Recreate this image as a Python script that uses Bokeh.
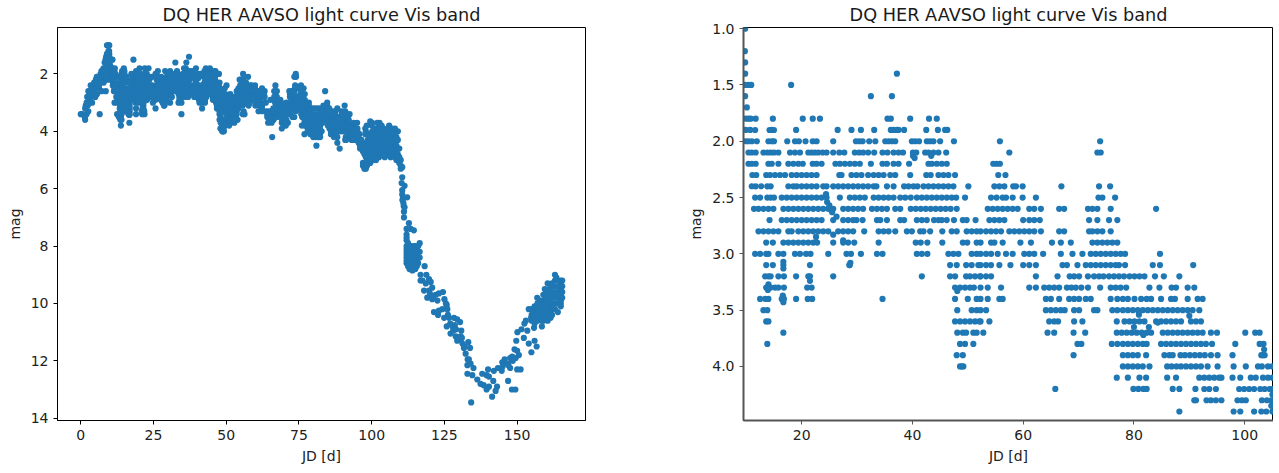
from bokeh.embed import file_html
from bokeh.resources import INLINE
from bokeh.models import ColumnDataSource, Range1d, FixedTicker, Title, NumeralTickFormatter
from bokeh.plotting import figure
from bokeh.layouts import row

TITLE = "DQ HER AAVSO light curve Vis band"
COLOR = "#1f77b4"

m10 = [9.8]
m12 = [9.75]
m13 = [9.8]
m14 = [9.8, 37.2]
m15 = [9.8, 10.4, 10.9, 18.1]
m16 = [9.8, 32.5, 36.3]
m17 = [10.1]
m18 = [9.9, 10.4, 10.8, 11.7, 14.8, 20.2, 22, 23.3, 35.5, 36.1, 39.6, 43, 44.4]
m19 = [9.9, 10.7, 11.6, 14.2, 14.6, 15, 19, 26.5, 29, 30.7, 33.1, 36.1, 36.6, 37.2, 37.5, 38.5, 42.5, 44.6, 45.9, 46.3]
m20 = [9.9, 10.4, 11, 11.9, 14, 14.6, 15, 17.4, 18.8, 19.5, 20.7, 22, 22.7, 25.7, 29.8, 30.4, 31, 32.2, 33.3, 35.1, 35.7,
       36.3, 36.9, 39.9, 40.5, 41.2, 42.6, 43.2, 43.8, 45, 47.5, 55.8, 73.9]
m21 = [10.4, 11, 11.7, 13.1, 13.8, 14.4, 15, 15.8, 17.9, 18.8, 19.7, 21.2, 21.8, 22.4, 23, 23.8, 24.5, 25.7, 26.8, 27.7,
       29.6, 30.4, 31.1, 32, 33.1, 34.6, 35.5, 36.6, 37.5, 38.3, 40.1, 40.7, 42.3, 42.9, 43.8, 44.7, 46.1, 57.5, 73.4, 74]
m22 = [10.4, 11, 11.7, 14, 14.6, 15.8, 17.6, 18.5, 19.4, 20.2, 22, 22.7, 23.6, 26.1, 26.9, 27.8, 28.7, 29.6, 30.5, 32.5,
       34.6, 35.4, 36.6, 37.5, 39.4, 42.9, 43.5, 44.4, 45.3, 46.2, 54.6, 55.2, 55.8]
m23 = [11.1, 11.8, 13.6, 14.3, 15.2, 16.1, 17, 18.2, 19.1, 20, 20.9, 21.8, 22.7, 26.8, 27.2, 29, 29.9, 30.8, 32, 33, 33.9,
       34.8, 36, 36.9, 39.6, 42.5, 43.3, 44.7, 45.6, 46.5, 47.7, 55.5, 56.8]
m24 = [11, 11.7, 12.7, 13.8, 14.4, 17.6, 18.5, 19.1, 20, 20.9, 21.8, 22.7, 23.9, 24.5, 25.7, 26.6, 27.5, 28.4, 29.3, 30.2,
       31.1, 32, 33, 33.5, 35.4, 36.6, 38.5, 39.3, 40.2, 40.9, 42, 42.9, 43.8, 44.7, 45.6, 46.5, 47.4, 50.1, 54.8, 55.7,
       56.6, 58.2, 58.7, 59.9, 66.9, 73.7, 75.7]
m25 = [11.6, 12.5, 13.8, 14.4, 15, 16.4, 17.3, 18.2, 19.1, 20, 20.9, 21.8, 22.7, 23.6, 24.5, 26.9, 28.7, 29.6, 30.5, 31.4,
       33, 33.9, 34.8, 35.7, 36.6, 37.8, 38.7, 39.7, 40.8, 41.7, 42.6, 43.5, 44.4, 45.3, 46.2, 47.1, 47.9, 49.5, 54.2,
       55.2, 56.3, 56.9, 58.1, 59.9, 62.3, 73.6, 74.3, 76.6]
m26 = [11.4, 12.2, 13.1, 14, 14.9, 16.7, 17.6, 18.5, 19.4, 20.3, 21.2, 22.1, 23, 23.9, 24.8, 25.7, 27.5, 28.4, 29.3, 30.2,
       31.1, 32.7, 33.6, 34.5, 35.4, 36.9, 37.8, 39.7, 40.6, 41.5, 42.4, 43.3, 44.2, 45.1, 46, 46.9, 48, 53.6, 54.5, 55.4,
       56.3, 57.2, 58.1, 59, 61.1, 62, 63.2, 66.5, 67.4, 71.7, 72.5, 73.4, 75.8, 84]
m27 = [14.2, 16.4, 17.3, 18.2, 19.1, 20, 20.9, 21.8, 22.7, 23.6, 25.7, 27.5, 28.4, 29.3, 29.9, 31, 33.6, 34.2, 35.4, 37.8,
       38.5, 40.8, 41.7, 42.6, 43.9, 44.7, 45.3, 46.2, 47.5, 49.1, 49.8, 51.4, 53.9, 54.8, 55.7, 56.6, 60, 61.1, 62, 63,
       71.9, 73.4, 75.5, 77]
m28 = [12.2, 13.1, 14, 14.9, 15.8, 17.6, 18.2, 19.4, 20.3, 21.2, 22.1, 23, 23.9, 24.8, 26.6, 27.5, 28.4, 29.3, 31.3, 33.9,
       34.8, 35.7, 36.9, 39, 39.9, 41.4, 42, 43.2, 45.4, 47.1, 48, 49.8, 50.7, 51.6, 52.3, 53.3, 54.2, 55.1, 56, 57.5,
       58.4, 59.3, 60.2, 61.1, 62, 63.2, 66.5, 67.4, 71.9, 72.5, 73.4, 74.3, 75.8]
m29 = [13.6, 14.8, 16.7, 17.6, 18.5, 19.4, 20.3, 21.2, 22.1, 22.8, 25.7, 27.5, 28.4, 29.5, 33.9, 40.6, 41.5, 42.7, 45.4,
       49.1, 49.9, 51.6, 52.3, 54.2, 54.8, 56.3, 59.5, 61.4, 65.2, 66.8, 68.6, 72.5, 73.4, 74.3, 75.2, 76.1, 77]
m30 = [11.6, 12.5, 13.6, 14, 15.8, 16.7, 18.8, 19.7, 20.8, 21.6, 24.8, 28.1, 28.9, 30.7, 33.6, 34.6, 40.8, 41.7, 42.7,
       46.5, 47.4, 48.3, 50.7, 51.6, 52.3, 53.3, 54.2, 55.4, 56.9, 58.1, 60.2, 61.1, 62, 63.6, 66.8, 68.9, 70.7, 72.2,
       73.1, 74, 74.9, 75.8, 76.7, 77.6, 78.4, 84.7]
m31 = [13.6, 14.8, 16.7, 21.5, 28.7, 46.8, 48, 49.7, 50.7, 51.9, 52.3, 53.3, 54.2, 55.7, 57.7, 60, 61.1, 62.3, 67.1, 67.9,
       69.8, 71.3, 72.2, 73.1, 74, 74.9, 75.8, 76.7, 77.3, 78.4, 83.4, 84.7, 90.7]
m32 = [13.4, 14, 14.4, 15.8, 16.8, 19, 21.2, 21.5, 25.7, 41.7, 46.8, 47.7, 49.7, 50.4, 51.3, 52.2, 52.3, 53.3, 54.2, 62.3,
       66.2, 68.4, 69.2, 70.1, 71.7, 72.8, 73.7, 74.5, 75.5, 76.4, 77.3, 78.2, 79.2, 80.1, 81, 81.9, 83.8, 85.4, 88.2]
m33 = [13.6, 14.4, 15.2, 15.8, 16.8, 21, 21.8, 47.7, 48.6, 49.5, 50.4, 51.1, 52.3, 53.6, 56, 61.1, 62.3, 63.8, 64.7, 65.6,
       66.5, 67.9, 68.7, 69.5, 70.5, 71.7, 73.9, 75.8, 76.7, 77.6, 78.6, 82.8, 84.6, 86.8, 87.6, 89.7, 90.9]
m34 = [12.5, 13.4, 14, 16.4, 16.8, 19, 21.1, 21.9, 34.6, 47.7, 50, 51.6, 52.3, 53.6, 55.7, 56.3, 64.1, 65, 66.5, 68.3,
       69.2, 70.1, 71.3, 72.2, 75.8, 77, 78, 78.9, 80.1, 81.3, 82.3, 83.1, 84.9, 86.7, 87.4, 89.7, 91.5, 92.4]
m35 = [13.1, 13.8, 48.1, 50.7, 51.6, 52.3, 53.3, 64.1, 65, 65.9, 66.8, 67.5, 69.2, 70.1, 72.8, 73.4, 76.1, 77, 78, 78.9,
       79.8, 80.7, 81.6, 82.5, 83.4, 84.3, 85.2, 86.1, 87, 87.9, 88.8, 89.7, 90.6, 91.8]
m36 = [13.6, 14, 47.7, 48.6, 49.5, 50.4, 51.3, 52.1, 52.3, 53.9, 64.7, 65.6, 66.3, 69.2, 70.7, 76.9, 78.3, 79.2, 80.1, 81,
       81.9, 84, 84.9, 85.8, 86.7, 87.6, 88.5, 90.3, 91.2, 92.1]
m37 = [16.7, 48.1, 49.1, 49.7, 51, 51.6, 52.8, 64.4, 65.6, 69.1, 71.2, 76.9, 77.8, 78.7, 79.6, 80.5, 81.4, 82.3, 83.1, 85.2,
       86.1, 87, 87.9, 88.8, 89.7, 90.6, 91.5, 92.4, 93.9, 95, 100.1, 101.9, 102.7]
m38 = [13.8, 48.6, 49.5, 51, 69.8, 70.5, 76, 77, 78, 78.9, 79.8, 80.7, 81.6, 82.3, 84.9, 85.8, 86.7, 87.6, 88.5, 89.4,
       90.3, 91.2, 92.1, 93, 94.1, 98.3, 102.7, 103.4]
m39 = [48, 49.1, 69.1, 78, 78.9, 79.8, 80.7, 82.2, 85.5, 86.4, 87, 88.4, 89.2, 90.1, 91, 91.9, 92.8, 93.9, 95.1, 97.8, 103,
       103.6]
m40 = [48.6, 48.9, 49.2, 78, 78.9, 79.8, 80.7, 81.6, 82.8, 86, 86.8, 87.7, 88.5, 89.4, 90.3, 91.2, 92.1, 93.3, 95.1, 98,
       100.2, 102.4, 103.1, 104.2, 105]
m41 = [76.9, 78.9, 81, 82.2, 86, 87.6, 91.8, 92.7, 93.6, 94.5, 95.4, 95.8, 97.8, 99.2, 101.1, 102, 103.3, 104.2, 105]
m42 = [65.8, 79.9, 80.8, 81.7, 82.3, 87, 88.2, 91.1, 92.7, 93.6, 94.8, 99, 99.9, 100.8, 101.7, 102.8, 103.6, 104.5, 105]
m43 = [90.9, 91.2, 93.1, 93.9, 94.8, 95.8, 98.7, 99.5, 100.2, 103.1, 104, 104.8]
m44 = [88.2, 98, 99.2, 101.7, 103, 103.9, 105]

levels = [1.0, 1.2, 1.3, 1.4, 1.5, 1.6, 1.7, 1.8, 1.9, 2.0, 2.1, 2.2, 2.3, 2.4, 2.5, 2.6, 2.7, 2.8, 2.9, 3.0, 3.1, 3.2,
          3.3, 3.4, 3.5, 3.6, 3.7, 3.8, 3.9, 4.0, 4.1, 4.2, 4.3, 4.4]
level_jds = [m10, m12, m13, m14, m15, m16, m17, m18, m19, m20, m21, m22, m23, m24, m25, m26, m27, m28, m29, m30, m31, m32,
             m33, m34, m35, m36, m37, m38, m39, m40, m41, m42, m43, m44]

# Observations not on the 0.1 mag grid
off_jd = [16.7, 16.7, 16.6, 16.7, 14, 13.9, 21.5, 28.8, 28.6, 22.6, 25.7, 27.5, 24.4, 24.6, 25, 26.3, 25.5, 43.4, 40.1,
          40.4, 48.1, 80, 82.7, 81.7, 84.3, 80.9, 90, 103.5, 103.3, 105, 104.8]
off_mag = [3.07, 3.13, 3.37, 3.43, 3.27, 3.32, 3.24, 3.08, 3.1, 2.85, 2.83, 2.88, 2.47, 2.54, 2.57, 2.67, 2.63, 2.13, 2.13,
           2.15, 3.33, 3.65, 3.65, 3.72, 3.61, 3.54, 3.55, 3.85, 3.9, 4.25, 4.35]

# Left panel only: the early rise, the faint part outside the zoom, and the decline and recovery
rise_jd = [0, 0.6, 1.4, 1.5, 2, 1.5, 1.7, 2, 2.4, 2.6, 2.2, 2.6, 2.9, 3, 3.2, 3.4, 3.6, 3.8, 3.9, 4.2, 4.4, 4.6, 4.8, 5,
           5.2, 5.4, 5.6, 5.8, 6, 6.2, 6.5, 6.4, 6.6, 6.8, 7, 7.2, 7.4, 7.6, 7.8, 8, 8.2, 8.4, 8.5, 8.7, 8.9, 9, 9.1, 9.2,
           9, 9.4, 9.5, 9.6, 9.7, 8.6, 8.3, 8.8, 9.3, 7.9, 7.1, 6.3, 5.5, 4.7]
rise_mag = [3.4, 3.4, 3.5, 3.6, 3.4, 3.2, 3.1, 3, 3.1, 3.3, 2.8, 2.6, 2.8, 3, 2.6, 2.4, 2.8, 2.7, 3, 2.4, 2.6, 2.3, 2.5, 2.8,
            2.2, 2.4, 2.7, 2.1, 2.2, 2.5, 3.4, 2.1, 2.3, 2, 2.2, 2.6, 1.9, 2.1, 1.8, 2, 1.6, 1.8, 1.5, 1.4, 1.7, 1.3, 1.5,
            1.9, 1, 1, 1.2, 1.4, 1, 2.6, 2.1, 1.9, 2.2, 2.3, 1.9, 2.4, 2.1, 2.7]

faint_jd = [96, 97, 98, 99, 100, 101, 102, 103, 104, 105, 96, 97.5, 98.5, 99.5, 100.5, 101.5, 103, 104.5, 97, 98, 99, 100.5,
            102, 103.5, 104.5, 97.5, 98.5, 100, 101.5, 102.5, 104, 105, 98, 99, 100, 101, 102.5, 104.5, 98.5, 99, 100.5,
            101.5, 97, 98, 99.5, 97, 97.6, 98.4, 97.5, 98, 81, 89, 95, 95.5, 94, 96.5, 100, 101, 102, 103, 104, 99.5]
faint_mag = [4.5, 4.5, 4.5, 4.5, 4.5, 4.5, 4.5, 4.5, 4.5, 4.5, 4.6, 4.6, 4.6, 4.6, 4.6, 4.6, 4.6, 4.6, 4.7, 4.7, 4.7, 4.7,
             4.7, 4.7, 4.7, 4.8, 4.8, 4.8, 4.8, 4.8, 4.8, 4.8, 4.9, 4.9, 4.9, 4.9, 4.9, 4.9, 5, 5, 5, 5, 5.1, 5.1, 5.1, 5.2,
             5.2, 5.2, 5.3, 5.3, 4.5, 4.6, 4.2, 4.4, 4.3, 4.3, 3.8, 3.9, 3.9, 3.8, 3.9, 3.65]

plateau_jd = [105.5, 105.5, 105.5, 105.5, 105.5, 106, 106, 106, 106, 106, 106, 106.5, 106.5, 106.5, 106.5, 106.5, 107, 107,
              107, 107, 107.5, 107.5, 107.5, 107.5, 108, 108, 108, 108, 108, 108.5, 108.5, 108.5, 108.5, 109, 109, 109, 109,
              109.5, 109.5, 109.5, 110, 110]
plateau_mag = [3.9, 4.1, 4.3, 4.5, 4.7, 3.8, 4, 4.2, 4.4, 4.6, 4.8, 4, 4.1, 4.3, 4.6, 4.9, 3.9, 4.2, 4.4, 4.7, 4, 4.3, 4.5,
               4.8, 3.9, 4.1, 4.4, 4.6, 4.9, 4.2, 4.5, 4.7, 5, 4, 4.3, 4.6, 4.8, 4.6, 4.9, 5.1, 5, 5.2]

drop_jd = [110.5, 110, 110.5, 110.3, 111.3, 110.5, 110.5, 112.2, 110.7, 110.9, 111.3, 111.1, 111.1, 110.6, 111, 112.8, 112,
           113.4, 114.5, 112, 112, 112, 112.2]
drop_mag = [5.25, 5.3, 5.6, 5.8, 5.9, 6.05, 6.2, 6.3, 6.35, 6.5, 6.65, 6.8, 7, 6.4, 6.6, 7.2, 7.4, 7.4, 7.45, 7.6, 7.8, 7.7, 8]

knot_jd = [112, 112, 112, 112, 112, 112, 112, 112.5, 112.5, 112.5, 112.5, 112.5, 113, 113, 113, 113, 113, 113.5, 113.5, 113.5,
           113.5, 114, 114, 114, 114, 114, 114.5, 114.5, 114.5, 114.5, 114.5, 115, 115, 115, 115, 115, 115.5, 115.5, 115.5,
           115.5, 116, 116, 116, 116, 116.5, 116.5, 116.5]
knot_mag = [8, 8.1, 8.2, 8.3, 8.4, 8.5, 8.6, 7.9, 8.2, 8.4, 8.6, 8.7, 8.1, 8.3, 8.5, 8.7, 8.8, 8, 8.2, 8.4, 8.6, 8.1, 8.3, 8.5,
            8.7, 8.85, 8, 8.2, 8.4, 8.6, 8.8, 8, 8.3, 8.5, 8.7, 8.8, 8.1, 8.3, 8.5, 8.7, 8, 8.2, 8.4, 8.6, 7.9, 8.2, 8.4]

fade_jd = [118.2, 116.8, 118.8, 116.8, 117.5, 119.7, 120.3, 118.6, 120.8, 118, 119.7, 119.1, 120.8, 122, 123.1, 122.6, 125,
           125.8, 121.4, 123.1, 122.8, 124.3, 126, 124.9, 126.6, 128.3, 129.4, 130.4, 125.8, 127.8, 128.6, 127.1, 130.8, 128.9,
           130.6, 129.4, 131.2, 133.2, 131.7, 133.8, 132.3, 133.4, 132.9, 135, 132.9, 134.6, 134.2, 136.3, 137.4, 120, 121,
           124.5, 125.5, 126.2, 127, 128, 129, 130, 131, 132, 133, 134]
fade_mag = [8.7, 9, 9, 9.2, 9.2, 9.15, 9.25, 9.3, 9.45, 9.55, 9.55, 9.8, 9.85, 9.7, 9.65, 9.9, 9.85, 10.05, 10.3, 10.25, 10.4,
            10.2, 10.2, 10.5, 10.5, 10.5, 10.55, 10.65, 10.8, 10.8, 10.75, 11.05, 10.95, 11.15, 11.15, 11.3, 11.4, 11.35, 11.55,
            11.55, 11.75, 11.95, 12.15, 12.25, 12.45, 12.5, 13.45, 12.65, 12.8, 9.65, 9.75, 9.6, 10, 10.4, 10.7, 10.95, 10.9,
            11.25, 11.2, 11.5, 11.95, 12.1]

rebound_jd = [138, 139.5, 140, 140.3, 141.8, 138.5, 139.5, 140.3, 141.4, 143.1, 142.6, 142, 143.4, 144.7, 144.9, 145.7, 147.6,
              147.6, 146.9, 148.2, 149.4, 148.3, 149.1, 150, 150, 151.2, 150.6, 149.7, 150.1, 152.3, 153.5, 154, 154.9, 156, 156.7,
              153, 154, 155.8, 154.8, 156.9, 156.9, 146.8, 148.5, 145, 147, 149.5, 151.5, 152.5]
rebound_mag = [12.45, 12.5, 12.3, 12.55, 12.7, 12.85, 13, 12.9, 13.25, 12.9, 13.05, 12.35, 12.25, 12.35, 12.05, 11.95, 11.9, 12.25,
               12.7, 13, 13, 11.85, 11.6, 11.65, 12.3, 12.3, 11.8, 11.3, 11, 11.2, 10.95, 11.4, 11.7, 11.3, 11.5, 10.6, 10.2, 10.85,
               10.5, 9.8, 10.35, 12.1, 12, 12.2, 12.15, 11.9, 10.9, 10.7]

bright_jd = [155, 155, 155, 156, 156, 156, 156, 157, 157, 157, 157, 158, 158, 158, 158, 158.5, 158.5, 158.5, 159, 159, 159, 159,
             159, 159, 160, 160, 160, 160, 160, 160, 161, 161, 161, 161, 161, 162, 162, 162, 162, 162, 162, 163, 163, 163, 163,
             163, 163, 163, 164, 164, 164, 164, 164, 164, 165, 165, 165, 165, 165, 165, 165, 165.5, 165.5, 165.5, 165.5, 160.5,
             160.5, 162, 161.5, 163.5, 159.5]
bright_mag = [10.2, 10.4, 10.6, 10.3, 10.5, 10.7, 10.1, 10, 10.2, 10.4, 10.6, 9.9, 10.1, 10.3, 10.5, 10.2, 10.6, 10.8, 9.7, 9.9, 10,
              10.2, 10.4, 10.6, 9.6, 9.8, 10, 10.2, 10.4, 10.5, 9.5, 9.7, 9.9, 10.1, 10.3, 9.4, 9.6, 9.8, 10, 10.2, 10.4, 9, 9.2,
              9.4, 9.6, 9.8, 10, 10.2, 9.2, 9.4, 9.6, 9.8, 10, 10.3, 9.2, 9.3, 9.5, 9.7, 9.9, 10, 10.1, 9.2, 9.4, 9.6, 9.8, 9.3, 10.6,
              9.3, 10.5, 9.1, 9.5]

# Tick labels
left_xticks = [0, 25, 50, 75, 100, 125, 150]
left_yticks = [2, 4, 6, 8, 10, 12, 14]
right_xticks = [20, 40, 60, 80, 100]
right_yticks = [1.0, 1.5, 2.0, 2.5, 3.0, 3.5, 4.0]

zoom_jd = [j for jds in level_jds for j in jds] + off_jd
zoom_mag = [lev for lev, jds in zip(levels, level_jds) for _ in jds] + off_mag

all_jd = zoom_jd + rise_jd + faint_jd + plateau_jd + drop_jd + knot_jd + fade_jd + rebound_jd + bright_jd
all_mag = zoom_mag + rise_mag + faint_mag + plateau_mag + drop_mag + knot_mag + fade_mag + rebound_mag + bright_mag


def panel(jd, mag, xr, yr, xticks, yticks, w, h, left, right, size, standoff, spine="#000000", spine_w=1):
    p = figure(x_range=Range1d(*xr), y_range=Range1d(*yr),
               output_backend="svg", toolbar_location=None, min_border_left=left, min_border_right=right,
               min_border_top=0, min_border_bottom=50, frame_width=w, frame_height=h)
    p.grid.visible = False
    p.outline_line_color = "#000000"
    p.outline_line_width = 1
    p.background_fill_color = "white"
    p.border_fill_color = "white"
    p.title = Title(text=TITLE, align="center", text_font="DejaVu Sans", text_font_size="17.7px",
                    text_font_style="normal", text_color="#1a1a1a", offset=0, standoff=standoff)
    for ax, ticks in ((p.xaxis[0], xticks), (p.yaxis[0], yticks)):
        ax.ticker = FixedTicker(ticks=ticks)
        ax.minor_tick_line_color = None
        ax.major_tick_in = 0
        ax.major_tick_out = 4
        ax.major_tick_line_color = spine
        ax.axis_line_color = spine
        ax.axis_line_width = spine_w
        ax.major_label_text_font = "DejaVu Sans"
        ax.major_label_text_font_size = "14px"
        ax.major_label_text_color = "#222222"
        ax.axis_label_text_font = "DejaVu Sans"
        ax.axis_label_text_font_size = "14px"
        ax.axis_label_text_font_style = "normal"
        ax.axis_label_text_color = "#222222"
    p.xaxis[0].axis_label = "JD [d]"
    p.yaxis[0].axis_label = "mag"
    src = ColumnDataSource(dict(jd=jd, mag=mag))
    p.scatter("jd", "mag", source=src, size=size, color=COLOR, line_color=None)
    return p


left_panel = panel(all_jd, all_mag, (-8, 173.5), (14.08, 0.38), left_xticks, left_yticks,
                   528, 393, 57, 100, 6.2, 5)
right_panel = panel(zoom_jd, zoom_mag, (9.5, 105.2), (4.48, 0.99), right_xticks, right_yticks,
                    530, 393, 58, 0, 6.2, 5, spine="#555555", spine_w=2)
right_panel.yaxis[0].formatter = NumeralTickFormatter(format="0.0")

p = row(left_panel, right_panel)
open("out.html", "w").write(file_html(p, INLINE))
